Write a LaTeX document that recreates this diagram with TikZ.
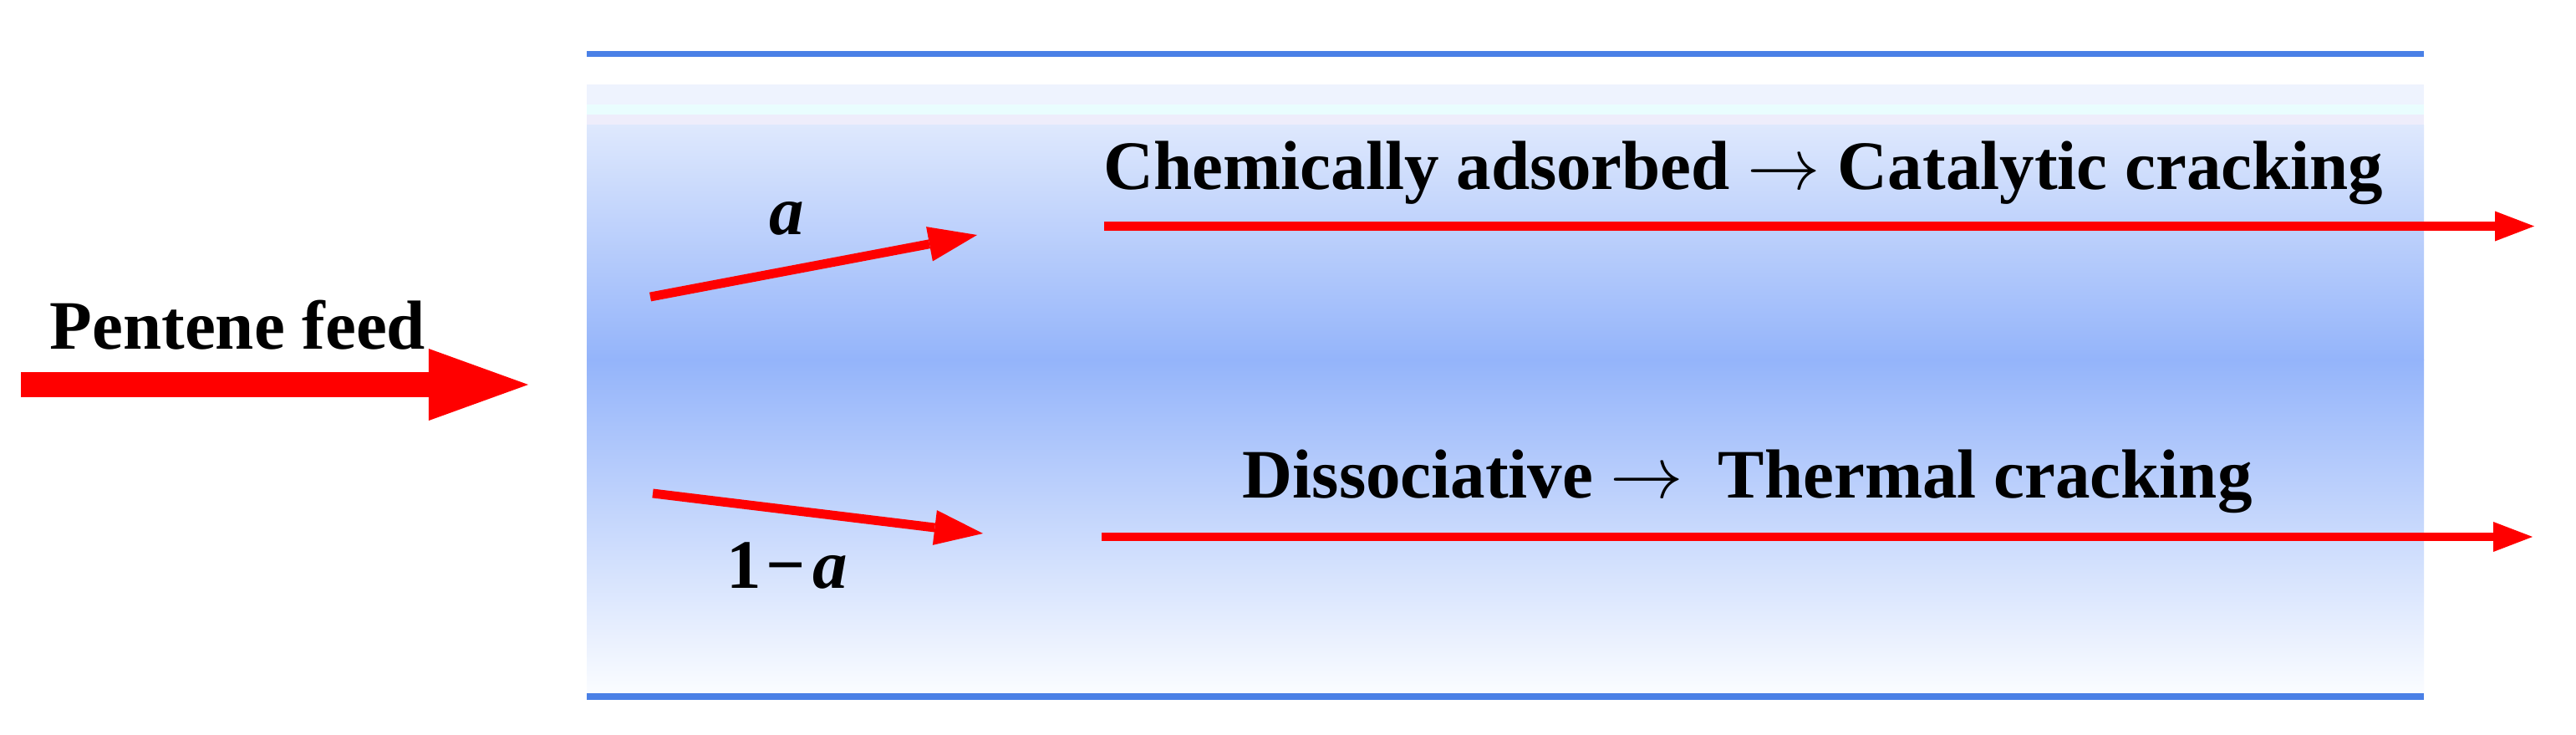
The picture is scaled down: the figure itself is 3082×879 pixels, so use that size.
\documentclass[tikz,border=0pt]{standalone}
\usepackage{fontspec}
\setmainfont{Liberation Serif}
\usetikzlibrary{arrows.meta}
\definecolor{tubeline}{RGB}{74,128,230}
\definecolor{bandA}{HTML}{EEF3FE}
\definecolor{bandB}{HTML}{E9FDFE}
\definecolor{bandC}{HTML}{EEEDFB}
\definecolor{shTop}{HTML}{DEE8FD}
\definecolor{shMid}{HTML}{94B4FA}
\definecolor{shBot}{HTML}{FAFCFF}
\tikzset{
  feedarrow/.style={draw=red, line width=8.25pt, -{Triangle[length=1.19cm,width=0.86cm,line width=0pt]}},
  splitarrow/.style={draw=red, line width=3.1pt, -{Triangle[length=0.58cm,width=0.42cm,line width=0pt]}},
  longarrow/.style={draw=red, line width=2.85pt, -{Triangle[length=0.47cm,width=0.36cm,line width=0pt]}},
  tubewall/.style={draw=tubeline, line width=2.1pt},
  lbl/.style={inner sep=0pt, text=black, font=\fontsize{23.6pt}{28pt}\selectfont\bfseries},
}
\begin{document}
\begin{tikzpicture}[x=0.01cm,y=-0.01cm]
\useasboundingbox (0,0) rectangle (3082,879);
\fill[white] (0,0) rectangle (3082,879);
% tube background
\fill[bandA] (702,101) rectangle (2900,125);
\fill[bandB] (702,125) rectangle (2900,137);
\fill[bandC] (702,137) rectangle (2900,150);
\shade[top color=shTop, bottom color=shMid] (702,150) rectangle (2900,430.5);
\shade[top color=shMid, bottom color=shBot] (702,430) rectangle (2900,827);
% tube walls
\coordinate (wallTL) at (702,64.5);
\coordinate (wallTR) at (2900,64.5);
\coordinate (wallBL) at (702,833);
\coordinate (wallBR) at (2900,833);
\draw[tubewall] (wallTL) -- (wallTR);
\draw[tubewall] (wallBL) -- (wallBR);
% feed
\node[lbl, anchor=base west] (feed) at (59,417) {Pentene feed};
\coordinate (feedS) at (25,460);
\coordinate (feedE) at (632,460);
\draw[feedarrow] (feedS) -- (feedE);
% split arrows
\coordinate (upS) at (778,355);
\coordinate (upE) at (1169,281);
\coordinate (dnS) at (781,590);
\coordinate (dnE) at (1176,638);
\draw[splitarrow] (upS) -- (upE);
\draw[splitarrow] (dnS) -- (dnE);
\node[lbl, anchor=base] (alab) at (941,280) {\textit{a}};
\node[lbl, anchor=base west] (blab) at (869,703) {1\kern1.5pt−\kern2.5pt\textit{a}};
% long arrows
\coordinate (chemS) at (1321,270.5);
\coordinate (chemE) at (3032,270.5);
\coordinate (dissS) at (1318,642);
\coordinate (dissE) at (3030,642);
\draw[longarrow] (chemS) -- (chemE);
\draw[longarrow] (dissS) -- (dissE);
\node[lbl, anchor=base west] (chem) at (1320,226) {Chemically adsorbed $\rightarrow$ Catalytic cracking};
\node[lbl, anchor=base west] (diss) at (1486,595) {Dissociative $\rightarrow$ \ Thermal cracking};
\end{tikzpicture}
\end{document}
